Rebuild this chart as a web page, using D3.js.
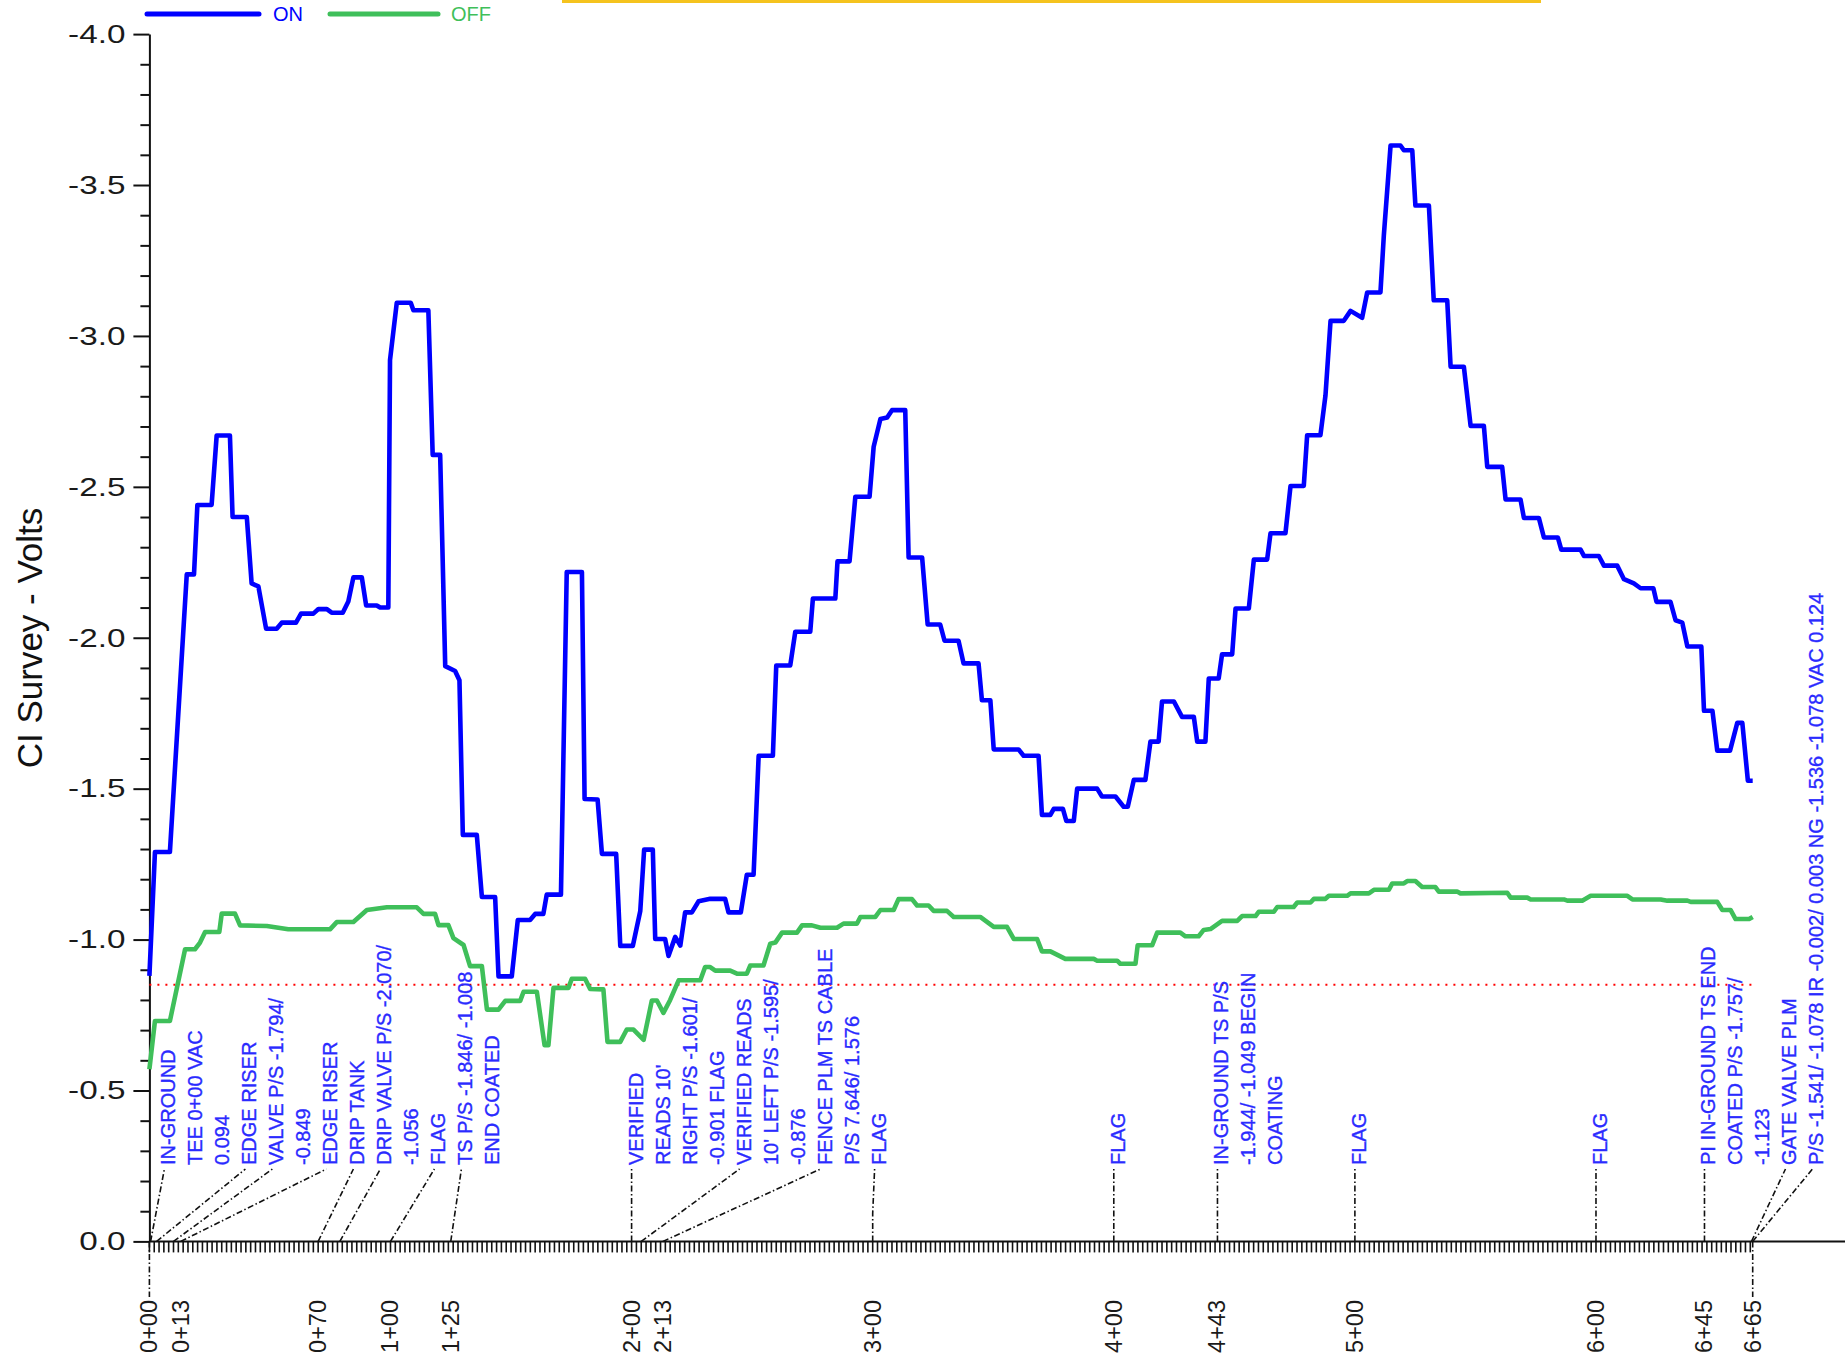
<!DOCTYPE html>
<html>
<head>
<meta charset="utf-8">
<script src="https://cdn.jsdelivr.net/npm/d3@7"></script>
<style>
  html, body { margin: 0; padding: 0; background: #ffffff; }
  svg { display: block; }
  text { font-family: "Liberation Sans", Arial, Helvetica, sans-serif; }
</style>
</head>
<body>
<svg id="chart" width="1845" height="1362"></svg>
<script>
// Close-interval survey: [station (ft), potential (V)]
const onReadings = [
  [0, -0.88], [2.3, -1.29], [8.5, -1.29], [15.5, -2.21], [18.5, -2.21], [19.9, -2.44], [25.8, -2.44],
  [27.9, -2.67], [33.4, -2.67], [34.5, -2.40], [40.4, -2.40], [42.4, -2.18], [45.2, -2.17], [48.4, -2.03],
  [52.8, -2.03], [54.9, -2.05], [60.8, -2.05], [62.9, -2.08], [68.0, -2.08], [70.1, -2.095], [73.6, -2.095],
  [75.6, -2.083], [80.2, -2.083], [82.5, -2.12], [84.6, -2.20], [88.1, -2.20], [89.9, -2.107], [94.3, -2.107],
  [95.7, -2.10], [99.1, -2.10], [99.8, -2.92], [102.6, -3.11], [108.4, -3.11], [109.5, -3.085], [115.7, -3.085],
  [117.5, -2.606], [120.6, -2.606], [122.7, -1.906], [126.8, -1.89], [128.6, -1.859], [130.0, -1.347],
  [135.8, -1.347], [137.9, -1.141], [143.4, -1.141], [144.8, -0.878], [150.3, -0.878], [152.8, -1.065],
  [157.9, -1.065], [160.0, -1.085], [163.4, -1.085], [164.8, -1.149], [170.7, -1.149], [173.1, -2.218],
  [179.4, -2.218], [180.5, -1.466], [185.9, -1.464], [187.7, -1.284], [193.6, -1.284], [195.3, -0.979],
  [200.5, -0.979], [203.6, -1.095], [205.2, -1.298], [208.8, -1.298], [209.8, -1.002], [213.9, -1.002],
  [215.3, -0.946], [218.1, -1.009], [220.2, -0.98], [222.2, -1.09], [225.0, -1.09], [227.8, -1.127],
  [232.6, -1.135], [238.8, -1.135], [240.2, -1.09], [245.3, -1.09], [247.8, -1.215], [250.6, -1.215],
  [252.7, -1.609], [258.6, -1.609], [260.0, -1.908], [265.8, -1.908], [267.9, -2.02], [274.1, -2.02],
  [275.2, -2.13], [284.5, -2.13], [285.4, -2.253], [290.4, -2.253], [292.8, -2.467], [298.7, -2.467],
  [300.4, -2.633], [303.2, -2.725], [306.0, -2.73], [308.0, -2.754], [313.5, -2.754], [314.9, -2.266],
  [320.5, -2.266], [322.8, -2.044], [328.0, -2.044], [329.8, -1.99], [335.6, -1.99], [337.7, -1.915],
  [343.9, -1.915], [345.3, -1.793], [348.8, -1.793], [350.2, -1.63], [360.5, -1.63], [362.6, -1.609],
  [368.8, -1.609], [370.2, -1.413], [373.7, -1.413], [375.1, -1.433], [378.9, -1.433], [380.3, -1.393],
  [383.4, -1.393], [384.8, -1.50], [393.1, -1.50], [395.1, -1.474], [400.7, -1.474], [404.1, -1.44],
  [405.8, -1.44], [408.3, -1.529], [413.1, -1.529], [415.2, -1.656], [418.6, -1.656], [420.0, -1.789],
  [424.9, -1.789], [428.3, -1.738], [433.2, -1.738], [434.6, -1.656], [438.0, -1.656], [439.4, -1.865],
  [443.5, -1.865], [444.9, -1.945], [449.1, -1.945], [450.5, -2.097], [456.0, -2.097], [458.1, -2.259],
  [463.6, -2.259], [465.0, -2.346], [471.2, -2.346], [473.3, -2.503], [478.8, -2.503], [480.2, -2.671],
  [485.7, -2.671], [487.8, -2.803], [489.9, -3.05], [495.4, -3.05], [498.2, -3.083], [503.0, -3.06],
  [505.1, -3.144], [510.6, -3.144], [512.0, -3.332], [514.8, -3.631], [518.9, -3.631], [520.3, -3.615],
  [523.8, -3.615], [525.1, -3.432], [530.7, -3.432], [532.7, -3.118], [538.3, -3.118], [539.7, -2.898],
  [545.2, -2.898], [548.0, -2.702], [553.5, -2.702], [554.9, -2.566], [561.1, -2.566], [562.5, -2.458],
  [568.7, -2.458], [570.1, -2.397], [576.3, -2.397], [578.4, -2.332], [584.2, -2.332], [585.6, -2.292],
  [593.6, -2.292], [595.0, -2.271], [601.2, -2.271], [603.3, -2.239], [608.8, -2.239], [611.6, -2.194],
  [615.7, -2.18], [618.5, -2.164], [623.8, -2.164], [625.1, -2.119], [630.9, -2.119], [633.0, -2.058],
  [635.8, -2.05], [637.9, -1.971], [643.7, -1.971], [644.8, -1.758], [648.3, -1.758], [650.3, -1.626],
  [655.6, -1.626], [658.6, -1.718], [660.7, -1.718], [663.0, -1.526], [665.0, -1.526]
];

const offReadings = [
  [0, -0.57], [2.3, -0.73], [8.5, -0.73], [14.8, -0.968], [18.9, -0.968], [21.0, -0.99], [23.1, -1.025],
  [29.0, -1.025], [30.0, -1.086], [35.5, -1.086], [37.6, -1.047], [48.7, -1.045], [57.6, -1.034],
  [74.9, -1.034], [77.7, -1.058], [84.6, -1.058], [90.2, -1.098], [98.5, -1.107], [110.9, -1.107],
  [113.7, -1.085], [118.5, -1.085], [119.9, -1.048], [124.0, -1.048], [126.1, -1.005], [130.3, -0.982],
  [133.0, -0.912], [137.9, -0.912], [140.0, -0.768], [144.8, -0.768], [147.6, -0.797], [153.8, -0.797],
  [155.2, -0.827], [160.7, -0.827], [163.9, -0.65], [165.5, -0.65], [167.6, -0.84], [173.8, -0.84],
  [175.2, -0.87], [180.7, -0.87], [182.8, -0.836], [188.3, -0.835], [190.0, -0.661], [195.3, -0.661],
  [198.0, -0.702], [200.8, -0.702], [205.0, -0.668], [208.4, -0.798], [210.5, -0.798], [213.2, -0.757],
  [216.0, -0.80], [219.5, -0.865], [228.5, -0.865], [230.5, -0.909], [232.6, -0.909], [234.7, -0.897],
  [240.9, -0.897], [243.7, -0.887], [247.8, -0.887], [249.2, -0.914], [254.7, -0.914], [257.5, -0.986],
  [259.6, -0.99], [262.4, -1.023], [268.6, -1.023], [270.7, -1.047], [274.8, -1.047], [278.3, -1.039],
  [285.2, -1.039], [287.9, -1.053], [293.5, -1.053], [294.9, -1.075], [301.1, -1.075], [303.2, -1.098],
  [308.7, -1.098], [310.7, -1.134], [316.3, -1.134], [318.4, -1.113], [323.2, -1.113], [325.3, -1.095],
  [330.8, -1.095], [333.6, -1.075], [344.6, -1.075], [350.2, -1.042], [355.7, -1.042], [358.5, -1.002],
  [368.2, -1.002], [370.2, -0.961], [373.7, -0.961], [379.9, -0.936], [391.7, -0.936], [393.1, -0.93],
  [401.4, -0.93], [402.7, -0.92], [409.0, -0.92], [409.9, -0.981], [415.9, -0.981], [418.0, -1.023],
  [427.6, -1.023], [429.7, -1.011], [435.2, -1.011], [437.3, -1.032], [440.1, -1.035], [444.9, -1.062],
  [451.2, -1.062], [453.2, -1.078], [458.8, -1.078], [460.1, -1.092], [466.4, -1.092], [467.8, -1.108],
  [474.6, -1.108], [476.1, -1.123], [481.6, -1.123], [483.0, -1.135], [487.8, -1.135], [489.2, -1.145],
  [496.8, -1.145], [498.2, -1.153], [505.8, -1.153], [507.9, -1.165], [514.1, -1.165], [515.5, -1.186],
  [520.3, -1.186], [521.7, -1.194], [525.1, -1.194], [527.9, -1.174], [533.4, -1.174], [534.8, -1.159],
  [542.4, -1.159], [543.8, -1.153], [563.2, -1.155], [564.6, -1.139], [571.5, -1.139], [572.9, -1.133],
  [586.7, -1.133], [588.1, -1.129], [594.3, -1.129], [597.8, -1.145], [613.0, -1.145], [615.1, -1.133],
  [626.8, -1.133], [629.6, -1.129], [637.9, -1.129], [639.3, -1.125], [650.3, -1.125], [652.4, -1.098],
  [655.8, -1.098], [657.9, -1.068], [663.5, -1.068], [665.0, -1.075]
];

const seriesNames = ["ON", "OFF"];
const criterionVolts = -0.85;
const voltTicks = [-4.0, -3.5, -3.0, -2.5, -2.0, -1.5, -1.0, -0.5, 0.0];
const stationTickFeet = [0, 13, 70, 100, 125, 200, 213, 300, 400, 443, 500, 600, 645, 665];
const stationTickLabels = ["0+00", "0+13", "0+70", "1+00", "1+25", "2+00", "2+13", "3+00",
                           "4+00", "4+43", "5+00", "6+00", "6+45", "6+65"];
const readingStepFeet = 2;

// Field notes recorded along the line
const noteStations = [0.5, 3, 10, 13, 70, 79, 100, 125, 200, 204, 213, 300, 400, 443, 500, 600, 645, 664.5, 665];
const noteLines = [
  ["IN-GROUND", "TEE 0+00 VAC", "0.094"],
  ["EDGE RISER"],
  ["VALVE P/S -1.794/", "-0.849"],
  ["EDGE RISER"],
  ["DRIP TANK"],
  ["DRIP VALVE P/S -2.070/", "-1.056"],
  ["FLAG"],
  ["TS P/S -1.846/ -1.008", "END COATED"],
  ["VERIFIED", "READS 10'", "RIGHT P/S -1.601/", "-0.901 FLAG"],
  ["VERIFIED READS", "10' LEFT P/S -1.595/", "-0.876"],
  ["FENCE PLM TS CABLE", "P/S 7.646/ 1.576"],
  ["FLAG"],
  ["FLAG"],
  ["IN-GROUND TS P/S", "-1.944/ -1.049 BEGIN", "COATING"],
  ["FLAG"],
  ["FLAG"],
  ["PI IN-GROUND TS END", "COATED P/S -1.757/", "-1.123"],
  ["GATE VALVE PLM"],
  ["P/S -1.541/ -1.078 IR -0.002/ 0.003 NG -1.536 -1.078 VAC 0.124"]
];

// ---------------------------------------------------------------------------
const colors = { on: "#0000ff", off: "#3fbf5a", note: "#2a2aff", axis: "#111111" };
const svg = d3.select("#chart");

const x = d3.scaleLinear().domain([0, 665]).range([149.4, 1752.7]);
const y = d3.scaleLinear().domain([0, -4]).range([1241.4, 34.1]);
const axisY = y(0);

// accent bar along the top edge
svg.append("rect")
  .attr("x", 562).attr("y", 0).attr("width", 979).attr("height", 3)
  .attr("fill", "#f5c31e");

// legend
const legend = svg.append("g");
[[seriesNames[0], colors.on, 147, 259, 273], [seriesNames[1], colors.off, 330, 438, 451]].forEach(([name, c, x0, x1, tx]) => {
  legend.append("line").attr("x1", x0).attr("x2", x1).attr("y1", 14).attr("y2", 14)
    .attr("stroke", c).attr("stroke-width", 5).attr("stroke-linecap", "round");
  legend.append("text").attr("x", tx).attr("y", 21).attr("font-size", 20)
    .attr("fill", c).text(name);
});

// y axis: major ticks with labels, minor ticks every 0.1 V
const minorVolts = d3.range(0, 41).map(i => -i / 10).filter(v => Math.abs(v * 2 - Math.round(v * 2)) > 1e-6);
svg.append("g")
  .attr("transform", `translate(${x(0)},0)`)
  .call(d3.axisLeft(y).tickValues(minorVolts).tickSize(9).tickSizeOuter(0).tickFormat(""))
  .call(g => g.select(".domain").remove())
  .call(g => g.selectAll("line").attr("stroke", colors.axis).attr("stroke-width", 2));

const yAxisG = svg.append("g")
  .attr("transform", `translate(${x(0)},0)`)
  .call(d3.axisLeft(y).tickValues(voltTicks).tickSize(16).tickSizeOuter(0).tickPadding(8)
    .tickFormat(d => d.toFixed(1)));
yAxisG.select(".domain").attr("stroke", colors.axis).attr("stroke-width", 2);
yAxisG.selectAll("line").attr("stroke", colors.axis).attr("stroke-width", 2);
yAxisG.selectAll("text")
  .attr("font-size", 26).attr("fill", "#1a1a1a")
  .attr("font-family", "'Liberation Sans', Arial, sans-serif")
  .each(function () {
    const t = d3.select(this);
    const xx = +t.attr("x");
    t.attr("x", 0).attr("transform", `translate(${xx},0) scale(1.28,1)`);
  });

// y axis title
svg.append("text")
  .attr("transform", `translate(29,638) rotate(-90)`)
  .attr("text-anchor", "middle").attr("dominant-baseline", "central")
  .attr("font-size", 35).attr("fill", "#111").text("CI Survey - Volts");

// x axis line, reading marks
svg.append("line")
  .attr("x1", x(0)).attr("x2", 1845).attr("y1", axisY).attr("y2", axisY)
  .attr("stroke", colors.axis).attr("stroke-width", 2);
svg.append("g").selectAll("line")
  .data(d3.range(0, 665 + 0.01, readingStepFeet))
  .join("line")
  .attr("x1", d => x(d)).attr("x2", d => x(d))
  .attr("y1", axisY).attr("y2", axisY + 11)
  .attr("stroke", colors.axis).attr("stroke-width", 1.6);

// station labels
const dashDot = "6,2.5,1.5,2.5";
svg.append("g").selectAll("text")
  .data(stationTickFeet)
  .join("text")
  .attr("transform", d => `translate(${x(d)},1300) rotate(-90)`)
  .attr("text-anchor", "end").attr("dominant-baseline", "central")
  .attr("font-size", 23.5).attr("fill", "#1a1a1a")
  .text((d, i) => stationTickLabels[i]);
[stationTickFeet[0], stationTickFeet[stationTickFeet.length - 1]].forEach(ft => {
  svg.append("line")
    .attr("x1", x(ft)).attr("x2", x(ft)).attr("y1", axisY).attr("y2", 1297)
    .attr("stroke", "#111").attr("stroke-width", 1.6).attr("stroke-dasharray", dashDot);
});

// criterion line
svg.append("line")
  .attr("x1", x(0)).attr("x2", x(665)).attr("y1", y(criterionVolts)).attr("y2", y(criterionVolts))
  .attr("stroke", "#ff0000").attr("stroke-width", 2).attr("stroke-dasharray", "2,6");

// field notes: text columns packed left to right, leaders back to the station
const lineGap = 27, textBase = 1165, leaderTop = 1169;
let nextCol = x(0) + 19;
const notesG = svg.append("g");
noteStations.forEach((st, i) => {
  const sx = x(st);
  const first = Math.max(sx + 4, nextCol);
  const lines = noteLines[i];
  lines.forEach((ln, j) => {
    notesG.append("text")
      .attr("transform", `translate(${first + j * lineGap},${textBase}) rotate(-90)`)
      .attr("text-anchor", "start").attr("dominant-baseline", "central")
      .attr("font-size", 20).attr("fill", colors.note)
      .attr("stroke", colors.note).attr("stroke-width", 0.35)
      .text(ln);
  });
  nextCol = first + lines.length * lineGap;
  const lx = first - 4;
  const p = d3.path();
  p.moveTo(sx, axisY);
  if (Math.abs(lx - sx) < 10) { p.lineTo(sx, axisY - 28); }
  p.lineTo(lx, leaderTop);
  notesG.append("path").attr("d", p.toString())
    .attr("fill", "none").attr("stroke", "#111").attr("stroke-width", 1.6)
    .attr("stroke-dasharray", dashDot);
});

// potential profiles
const line = d3.line().x(d => x(d[0])).y(d => y(d[1]));
svg.append("path").datum(offReadings)
  .attr("d", line).attr("fill", "none")
  .attr("stroke", colors.off).attr("stroke-width", 4.6).attr("stroke-linejoin", "round");
svg.append("path").datum(onReadings)
  .attr("d", line).attr("fill", "none")
  .attr("stroke", colors.on).attr("stroke-width", 4.6).attr("stroke-linejoin", "round");
</script>
</body>
</html>
